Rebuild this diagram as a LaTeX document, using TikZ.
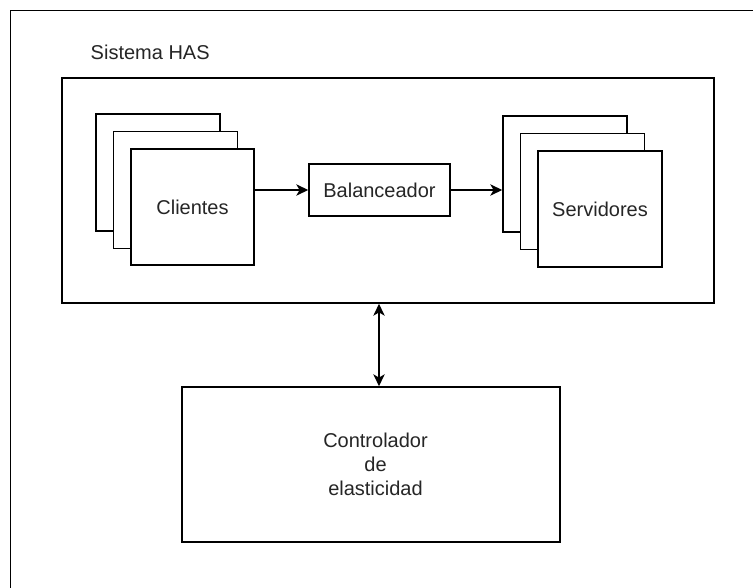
\documentclass[tikz,border=0pt]{standalone}
\usepackage{fontspec}
\setmainfont{Liberation Sans}
\usetikzlibrary{arrows.meta,fit}
\begin{document}
\begin{tikzpicture}[x=0.75pt,y=-0.75pt,
  line width=1.1pt,
  box/.style={draw=black, fill=white, inner sep=0pt},
  lbl/.style={inner sep=0pt, font=\fontsize{15pt}{18pt}\selectfont, text=black!85, align=center},
  arr/.style={-{Stealth[length=9pt,width=8.5pt,inset=2.5pt]}, line width=1.1pt},
  arrtwo/.style={{Stealth[length=9pt,width=8.5pt,inset=2.5pt]}-{Stealth[length=9pt,width=8.5pt,inset=2.5pt]}, line width=1.1pt}]
\useasboundingbox (0,0) rectangle (753,588);
\fill[white] (0,0) rectangle (753,588);
% outer frame (clipped at right and bottom)
\coordinate (fa) at (10.5,600);
\coordinate (fb) at (10.5,10.5);
\coordinate (fc) at (770,10.5);
\draw (fa) -- (fb) -- (fc);
% system box
\node[box, fit={(62,78) (714,303)}] (has) {};
\node[lbl, anchor=west] (haslbl) at (90,52) {Sistema HAS};
% clients stack
\node[box, fit={(96,114) (220,231)}] (cb) {};
\node[box, fit={(113.5,131.5) (237.5,248.5)}] (cm) {};
\node[box, fit={(131,149) (254,265)}] (cf) {};
\node[lbl] (cftxt) at (cf.center) {Clientes};
% balancer
\node[box, fit={(309,164) (450,216)}] (bal) {};
\node[lbl] (baltxt) at (bal.center) {Balanceador};
% servers stack
\node[box, fit={(503,116) (627,232)}] (sb) {};
\node[box, fit={(520.5,133.5) (644.5,249.5)}] (sm) {};
\node[box, fit={(538,151) (662,267)}] (sf) {};
\node[lbl] (sftxt) at (sf.center) {Servidores};
% controller
\node[box, fit={(182,387) (560,542)}] (ctrl) {};
\node[lbl, font=\fontsize{15pt}{18pt}\selectfont] (ctrltxt) at (375.5,464) {Controlador\\de\\elasticidad};
% connectors
\draw[arr] (cf.east |- bal.west) -- (bal.west);
\draw[arr] (bal.east) -- (sb.west |- bal.east);
\coordinate (ax) at (379,0);
\draw[arrtwo] (has.south -| ax) -- (ctrl.north -| ax);
\end{tikzpicture}
\end{document}
